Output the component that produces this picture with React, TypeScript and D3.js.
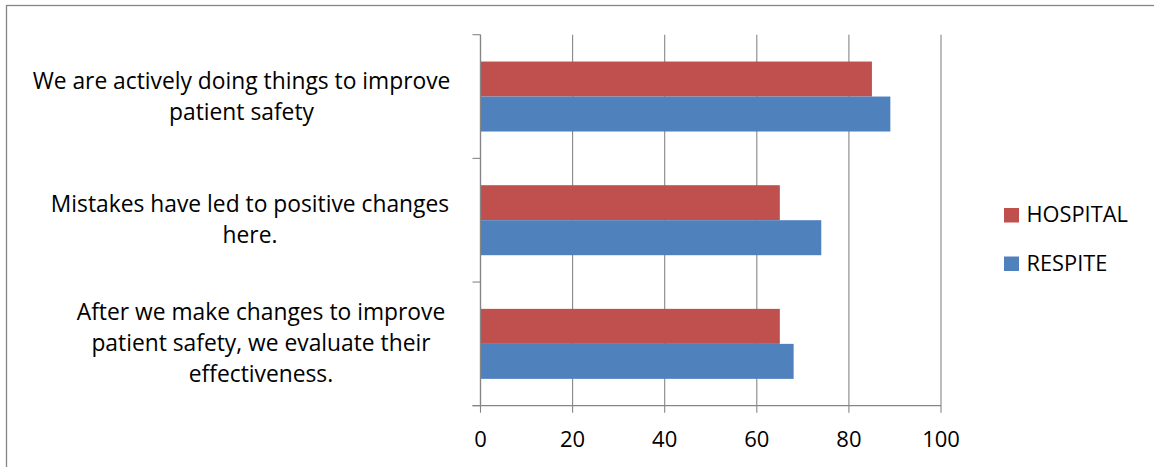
import React from "react";
import * as d3 from "d3";

const categories = ["cat1", "cat2", "cat3"];
const categoryLines = [
  ["We are actively doing things to improve", "patient safety"],
  ["Mistakes have led to positive changes", "here."],
  ["After we make changes to improve", "patient safety, we evaluate their", "effectiveness."],
];
const seriesNames = ["HOSPITAL", "RESPITE"];
const hospital = [85, 65, 65];
const respite = [89, 74, 68];
const xTicks = [0, 20, 40, 60, 80, 100];

const colors: Record<string, string> = { HOSPITAL: "#C0504D", RESPITE: "#4F81BD" };
const FONT = "'Open Sans', 'Liberation Sans', sans-serif";
const GRID = "#868686";

export default function App() {
  const left = 480.5, right = 941, top = 34.7, bottom = 405.7;
  const x = d3.scaleLinear().domain([0, 100]).range([left, right]);
  const y = d3.scaleBand<string>().domain(categories).range([top, bottom]).paddingInner(0.434).paddingOuter(0.217);
  const yInner = d3.scaleBand<string>().domain(seriesNames).range([0, y.bandwidth()]);
  const values: Record<string, number[]> = { HOSPITAL: hospital, RESPITE: respite };
  const step = y.step();
  const labelCenters = [241.5, 250, 261];
  const lineH = 31;
  const fs = 22.8;

  return (
    <svg width={1154} height={467} style={{ position: "absolute", left: 0, top: 0, background: "#fff" }}>
      <rect x={0} y={0} width={1154} height={467} fill="#fff" />
      <rect x={6.5} y={5.5} width={1300} height={600} fill="none" stroke={GRID} strokeWidth={1.3} />
      {xTicks.map((t) => (
        <line key={"g" + t} x1={x(t)} x2={x(t)} y1={top} y2={bottom + 7} stroke={GRID} strokeWidth={1.1} />
      ))}
      {d3.range(categories.length + 1).map((i) => (
        <line key={"ct" + i} x1={left - 8} x2={left} y1={top + i * step} y2={top + i * step} stroke={GRID} strokeWidth={1.1} />
      ))}
      {categories.map((c, i) =>
        seriesNames.map((s) => (
          <rect
            key={c + s}
            x={x(0)}
            y={(y(c) as number) + (yInner(s) as number)}
            width={x(values[s][i]) - x(0)}
            height={yInner.bandwidth()}
            fill={colors[s]}
          />
        ))
      )}
      <line x1={left} x2={left} y1={top} y2={bottom} stroke={GRID} strokeWidth={1.3} />
      <line x1={left - 8} x2={right} y1={bottom} y2={bottom} stroke={GRID} strokeWidth={1.3} />
      {xTicks.map((t) => (
        <text key={"t" + t} x={x(t)} y={447} textAnchor="middle" fontFamily={FONT} fontSize={22} fill="#000">
          {t}
        </text>
      ))}
      {categories.map((c, i) => {
        const lines = categoryLines[i];
        const cy = (y(c) as number) + y.bandwidth() / 2;
        const first = cy - ((lines.length - 1) * lineH) / 2 + 7.5;
        return lines.map((ln, j) => (
          <text key={c + j} x={labelCenters[i]} y={first + j * lineH} textAnchor="middle" fontFamily={FONT} fontSize={fs} fill="#000">
            {ln}
          </text>
        ));
      })}
      {seriesNames.map((s, i) => (
        <g key={"l" + s} transform={`translate(1004, ${208 + i * 48.5})`}>
          <rect x={0} y={0} width={15} height={14.5} fill={colors[s]} />
          <text x={22.5} y={14} fontFamily={FONT} fontSize={21.8} fill="#000">
            {s}
          </text>
        </g>
      ))}
    </svg>
  );
}
